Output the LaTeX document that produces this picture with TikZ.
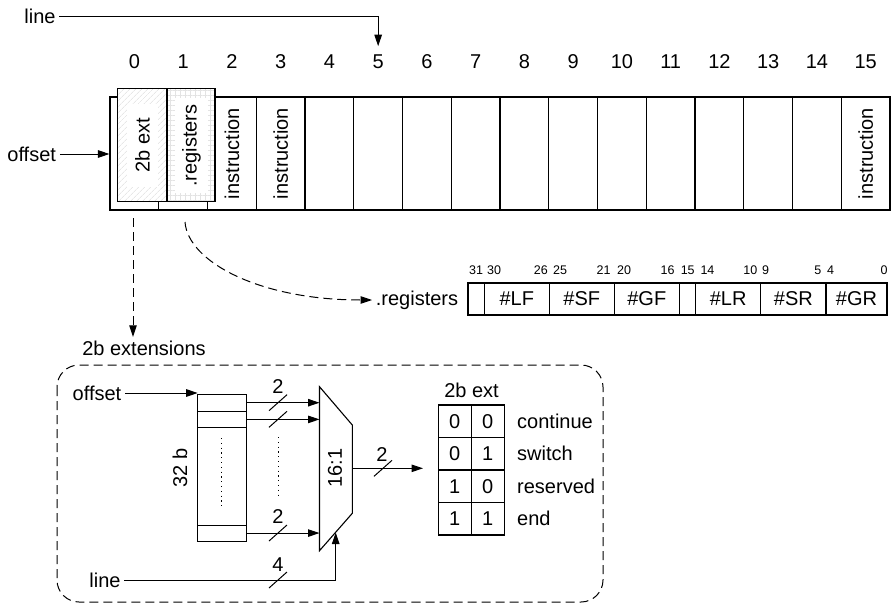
\documentclass[tikz,border=0pt]{standalone}
\usepackage{fontspec}
\setmainfont{Liberation Sans}
\usetikzlibrary{arrows.meta,positioning,patterns.meta}

\begin{document}
\begin{tikzpicture}[x=1pt,y=-1pt,
    font=\fontsize{20}{24}\selectfont,
    >={Triangle[length=11.5pt,width=7.5pt]},
    line width=1pt,
    cellbox/.style={draw,line width=1.1pt,minimum width=48.75pt,minimum height=113pt,inner sep=0pt},
    slotbox/.style={draw,line width=1.1pt,preaction={fill=white},minimum height=113.4pt,inner sep=0pt},
    fieldbox/.style={draw,line width=1.1pt,minimum height=32pt,inner sep=0pt},
    rfrow/.style={draw,line width=1.1pt,minimum width=49pt,minimum height=16.7pt,inner sep=0pt,outer sep=0pt},
    tcell/.style={draw,line width=1.1pt,minimum width=33pt,minimum height=32.5pt,inner sep=0pt,outer sep=0pt},
    bitnum/.style={font=\fontsize{12.5}{14}\selectfont,inner sep=1pt},
    dasharrow/.style={->,dash pattern=on 9pt off 5pt}]
    \useasboundingbox (0,0) rectangle (893,605);

    %cells
    \foreach \i in {0,...,15} {
        \node[cellbox] (c\i) at ({134.4+48.75*\i},153.5) {};
        \node (n\i) at ({134.4+48.75*\i},62) {\i};
    }
    \foreach \i in {2,3,15}
        \node[rotate=90] (ins\i) at (c\i) {instruction};

    %first two slots
    \node[slotbox,pattern={Lines[angle=45,distance=4pt,line width=0.6pt]},pattern color=gray!28,minimum width=49.3pt] (extslot) at (142.35,145) {};
    \node[fill=white,rotate=90,minimum width=83pt,minimum height=31.5pt,inner sep=0pt] (extname) at (extslot) {2b ext};
    \node[slotbox,pattern={Hatch[distance=5pt,line width=0.5pt]},pattern color=gray!22,minimum width=48pt] (regslot) at (191,145) {};
    \node[fill=white,rotate=90,minimum width=95pt,minimum height=33pt,inner sep=0pt] (regname) at (191.5,145.5) {.registers};

    %inputs
    \node (line1) at (40,16) {line};
    \draw[->] (line1.east) -| ([yshift=5pt]n5.north);
    \node (off1) at (31.7,154) {offset};
    \draw[->] (off1) -- (off1 -| c0.west);

    %registers word
    \node (regtext) at (417,300) {.registers};
    \foreach \a/\b/\t [count=\k] in {468/484.3/{},484.3/549.3/\#LF,549.3/614.3/\#SF,614.3/679.3/\#GF,679.3/695.7/{},695.7/760.7/\#LR,760.7/826/\#SR,826/887/\#GR} {
        \pgfmathsetmacro\w{\b-\a}
        \node[fieldbox,minimum width=\w pt] (f\k) at ({(\a+\b)/2},299) {\t};
    }
    \foreach \x/\n/\an in {476/31/center,485.7/30/west,549.3/26/east,551.7/25/west,612/21/east,615.7/20/west,676/16/east,687.7/15/center,699/14/west,758.7/10/east,760.7/9/west,822.7/5/east,825.7/4/west,889/0/east}
        \node[bitnum,anchor=\an] (bit\n) at (\x,270) {\n};

    %dashed links
    \coordinate (regstart) at (185,222);
    \draw[dasharrow] (regstart) .. controls (188,262) and (260,300) .. (regtext.west);
    \coordinate (extstart) at (133,218);
    \node (extlabel) at (144,348) {2b extensions};
    \draw[dasharrow] (extstart) -- (extstart |- extlabel.north);
    \draw[dash pattern=on 9pt off 5pt,rounded corners=22pt] (57,365) rectangle (603,602);

    %register file
    \node (off2) at (97,393) {offset};
    \node[rfrow] (r0) at (222.2,402.7) {};
    \node[rfrow,below=0pt of r0] (r1) {};
    \node[rfrow,minimum height=97.3pt,below=0pt of r1] (rmid) {};
    \node[rfrow,minimum height=16pt,below=0pt of rmid] (r15) {};
    \node[rotate=90] (rfsize) at (180,468) {32 b};
    \draw[->] (off2) -- (off2 -| r0.west);
    \draw[dash pattern=on 1.2pt off 3.6pt,line width=1.4pt] (221.7,438) -- (221.7,508);

    %mux
    \coordinate (mtop) at (319.5,386.7);
    \draw[line width=1.1pt] (mtop) -- (352.3,425) -- (352.3,513.3) -- (319.5,550.7) -- cycle;
    \node[rotate=90] (muxname) at (335,468) {16:1};
    \foreach \r in {r0,r1,r15}
        \draw[->] (\r.east) -- (\r.east -| mtop);
    \draw[dash pattern=on 1.2pt off 3.6pt,line width=1.4pt] (278.3,437) -- (278.3,498);
    \node (line2) at (105,580) {line};
    \coordinate (msel) at (335.7,532.5);
    \draw[->] (line2) -| (msel);
    \coordinate (mout) at (352.3,468.3);
    \coordinate (tin) at (423,468.3);
    \draw[->] (mout) -- (tin);

    %bus widths
    \foreach \x/\y in {278/402.7,278/419.3,278/533,278/580,383/468.3}
        \draw (\x,\y) ++(-9,8) -- ++(18,-16);
    \node (w0) at (278,387) {2};
    \node (w15) at (278,517) {2};
    \node (wsel) at (278,565) {4};
    \node (wout) at (382,455) {2};

    %2b ext table
    \node (tabtitle) at (471.5,390) {2b ext};
    \foreach \a/\b/\t [count=\k] in {0/0/continue,0/1/switch,1/0/reserved,1/1/end} {
        \node[tcell] (ta\k) at (454.8,{405+32.5*(\k-0.5)}) {\a};
        \node[tcell,right=0pt of ta\k] (tb\k) {\b};
        \node[right=12.4pt of tb\k,inner sep=0pt] (tl\k) {\t};
    }
\end{tikzpicture}
\end{document}
